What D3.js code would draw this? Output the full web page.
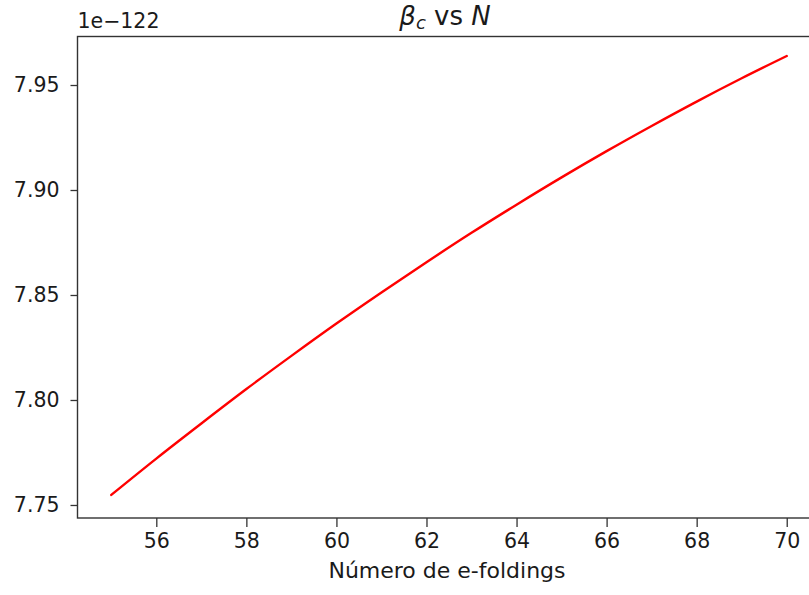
<!DOCTYPE html>
<html>
<head>
<meta charset="utf-8">
<script src="https://cdn.jsdelivr.net/npm/d3@7"></script>
<style>
  html, body { margin: 0; padding: 0; background: #fff; }
  svg { display: block; }
  text { font-family: "DejaVu Sans", sans-serif; fill: #1a1a1a; }
</style>
</head>
<body>
<svg id="chart" width="809" height="595"></svg>
<script>
// Number of e-foldings N
const efoldings = [55, 56, 57, 58, 59, 60, 61, 62, 63, 64, 65, 66, 67, 68, 69, 70];
// beta_c, in units of 1e-122
const betaC = [7.7548, 7.7721, 7.7888, 7.8052, 7.8210, 7.8364, 7.8512, 7.8656,
               7.8796, 7.8930, 7.9060, 7.9185, 7.9305, 7.9421, 7.9532, 7.9638];
const xTicks = [56, 58, 60, 62, 64, 66, 68, 70];
const yTicks = [7.75, 7.80, 7.85, 7.90, 7.95];
const offsetLabel = "1e\u2212122";
const xLabel = "Número de e-foldings";

const svg = d3.select("#chart");
const plot = { left: 77.5, right: 820.5, top: 36.5, bottom: 518 };

const x = d3.scaleLinear().domain([54.25, 70.75]).range([plot.left, plot.right]);
const y = d3.scaleLinear().domain([7.7438, 7.9731]).range([plot.bottom, plot.top]);

const data = efoldings.map((n, i) => ({ n, v: betaC[i] }));

// curve
svg.append("path")
  .datum(data)
  .attr("fill", "none")
  .attr("stroke", "#ff0000")
  .attr("stroke-width", 2.4)
  .attr("stroke-linecap", "round")
  .attr("d", d3.line().x(d => x(d.n)).y(d => y(d.v)).curve(d3.curveMonotoneX));

// x axis
const xAxis = svg.append("g")
  .attr("transform", `translate(0,${plot.bottom})`)
  .call(d3.axisBottom(x).tickValues(xTicks).tickFormat(d3.format("d")).tickSize(9).tickPadding(6));
xAxis.select(".domain").remove();
xAxis.selectAll(".tick line").attr("stroke", "#333").attr("stroke-width", 1.3);
xAxis.selectAll(".tick text").attr("font-size", 20.5).attr("fill", "#1a1a1a")
  .style("font-family", "DejaVu Sans");

// y axis
const yAxis = svg.append("g")
  .attr("transform", `translate(${plot.left},0)`)
  .call(d3.axisLeft(y).tickValues(yTicks).tickFormat(d3.format(".2f")).tickSize(7).tickPadding(11));
yAxis.select(".domain").remove();
yAxis.selectAll(".tick line").attr("stroke", "#333").attr("stroke-width", 1.3);
yAxis.selectAll(".tick text").attr("font-size", 20.5).attr("fill", "#1a1a1a")
  .style("font-family", "DejaVu Sans");

// spines
svg.append("rect")
  .attr("x", plot.left).attr("y", plot.top)
  .attr("width", plot.right - plot.left).attr("height", plot.bottom - plot.top)
  .attr("fill", "none").attr("stroke", "#333").attr("stroke-width", 1.4);

// offset text
svg.append("text")
  .attr("x", plot.left).attr("y", 28)
  .attr("font-size", 20.5)
  .text(offsetLabel);

// title
const title = svg.append("text")
  .attr("x", 445).attr("y", 25)
  .attr("text-anchor", "middle")
  .attr("font-size", 26);
title.append("tspan").attr("font-style", "italic").text("β");
title.append("tspan").attr("font-style", "italic").attr("font-size", 18).attr("dy", 4).text("c");
title.append("tspan").attr("dy", -4).text(" vs ");
title.append("tspan").attr("font-style", "italic").text("N");

// x label
svg.append("text")
  .attr("x", 447).attr("y", 578)
  .attr("text-anchor", "middle")
  .attr("font-size", 22)
  .text(xLabel);
</script>
</body>
</html>
